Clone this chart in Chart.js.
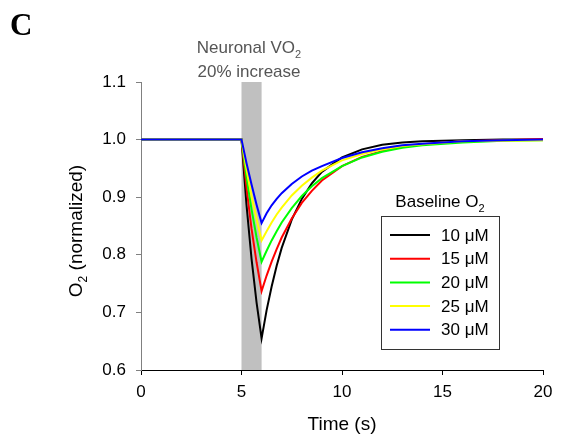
<!DOCTYPE html>
<html>
<head>
<meta charset="utf-8">
<script src="https://cdn.jsdelivr.net/npm/chart.js@4.4.1/dist/chart.umd.min.js"></script>
<style>
  html, body { margin: 0; padding: 0; background: #fff; }
  #wrap { width: 562px; height: 442px; }
</style>
</head>
<body>
<div id="wrap"><canvas id="chart" width="562" height="442"></canvas></div>
<script>
// ---- data ----------------------------------------------------------------
const TIME = [0, 5, 5.25, 5.5, 5.75, 6, 6.25, 6.5, 6.75, 7, 7.5, 8, 8.5, 9, 10, 11, 12, 13, 14, 16, 18, 20];

const O2_10uM = [1.000, 1.000, 0.886, 0.793, 0.717, 0.655, 0.704, 0.745, 0.781, 0.812, 0.861, 0.897, 0.924, 0.944, 0.969, 0.983, 0.991, 0.995, 0.997, 0.999, 1.000, 1.000];
const O2_15uM = [1.000, 1.000, 0.916, 0.845, 0.787, 0.737, 0.764, 0.788, 0.810, 0.830, 0.863, 0.890, 0.911, 0.929, 0.954, 0.970, 0.980, 0.987, 0.992, 0.997, 0.999, 1.001];
const O2_20uM = [1.000, 1.000, 0.934, 0.879, 0.830, 0.788, 0.807, 0.825, 0.841, 0.856, 0.881, 0.902, 0.919, 0.933, 0.954, 0.969, 0.979, 0.986, 0.990, 0.995, 0.998, 0.999];
const O2_25uM = [1.000, 1.000, 0.948, 0.902, 0.862, 0.825, 0.841, 0.856, 0.870, 0.882, 0.903, 0.920, 0.934, 0.946, 0.964, 0.975, 0.983, 0.989, 0.992, 0.997, 0.998, 0.999];
const O2_30uM = [1.000, 1.000, 0.959, 0.922, 0.887, 0.855, 0.872, 0.886, 0.897, 0.907, 0.923, 0.936, 0.946, 0.954, 0.968, 0.978, 0.985, 0.990, 0.993, 0.997, 0.999, 1.000];

const SERIES_LABELS = ['10 μM', '15 μM', '20 μM', '25 μM', '30 μM'];
const SERIES_VALUES = [O2_10uM, O2_15uM, O2_20uM, O2_25uM, O2_30uM];
const SERIES_COLORS = ['#000000', '#ff0000', '#00ff00', '#ffff00', '#0000ff'];

const STIM_WINDOW = [5, 6];   // s, grey band
const X_RANGE = [0, 20];
const Y_RANGE = [0.6, 1.1];

const FONT = "'Liberation Sans', Arial, sans-serif";

// Draw a string made of pieces, some of them subscripts, centred on x.
function drawParts(ctx, parts, x, y, size, color) {
  const subSize = Math.round(size * 0.62);
  let total = 0;
  parts.forEach((p) => {
    ctx.font = `${p.sub ? subSize : size}px ${FONT}`;
    total += ctx.measureText(p.t).width;
  });
  let cx = x - total / 2;
  ctx.fillStyle = color;
  ctx.textAlign = 'left';
  ctx.textBaseline = 'alphabetic';
  parts.forEach((p) => {
    ctx.font = `${p.sub ? subSize : size}px ${FONT}`;
    ctx.fillText(p.t, cx, p.sub ? y + size * 0.28 : y);
    cx += ctx.measureText(p.t).width;
  });
}

// ---- plugins -------------------------------------------------------------
const stimBand = {
  id: 'stimBand',
  beforeDatasetsDraw(chart) {
    const { ctx, chartArea, scales } = chart;
    const x0 = scales.x.getPixelForValue(STIM_WINDOW[0]);
    const x1 = scales.x.getPixelForValue(STIM_WINDOW[1]);
    ctx.save();
    ctx.fillStyle = '#c0c0c0';
    ctx.fillRect(x0, chartArea.top, x1 - x0, chartArea.bottom - chartArea.top);
    ctx.restore();
  }
};

const figureText = {
  id: 'figureText',
  afterDraw(chart) {
    const { ctx } = chart;
    ctx.save();
    // panel letter
    ctx.font = "bold 31px 'Liberation Serif', 'Times New Roman', serif";
    ctx.fillStyle = '#000';
    ctx.textAlign = 'left';
    ctx.textBaseline = 'alphabetic';
    ctx.fillText('C', 10, 35);

    // stimulus annotation
    drawParts(ctx, [{ t: 'Neuronal VO' }, { t: '2', sub: true }], 249, 53, 17, '#555555');
    drawParts(ctx, [{ t: '20% increase' }], 249, 77, 17, '#555555');

    // axis titles
    drawParts(ctx, [{ t: 'Time (s)' }], 342, 430, 19, '#000');
    ctx.translate(82, 231);
    ctx.rotate(-Math.PI / 2);
    drawParts(ctx, [{ t: 'O' }, { t: '2', sub: true }, { t: ' (normalized)' }], 0, 0, 19, '#000');
    ctx.restore();

    // legend
    ctx.save();
    drawParts(ctx, [{ t: 'Baseline O' }, { t: '2', sub: true }], 440, 207, 17, '#000');
    ctx.strokeStyle = '#333';
    ctx.lineWidth = 1;
    ctx.strokeRect(381.5, 216.5, 118, 133);
    chart.data.datasets.forEach((ds, i) => {
      const y = 235 + i * 23.7;
      ctx.strokeStyle = ds.borderColor;
      ctx.lineWidth = 2;
      ctx.beginPath();
      ctx.moveTo(390, y);
      ctx.lineTo(430, y);
      ctx.stroke();
      ctx.fillStyle = '#000';
      ctx.font = `17px ${FONT}`;
      ctx.textAlign = 'left';
      ctx.textBaseline = 'middle';
      ctx.fillText(ds.label, 441, y + 1);
    });
    ctx.restore();
  }
};

// ---- chart ---------------------------------------------------------------
const datasets = SERIES_VALUES.map((vals, i) => ({
  label: SERIES_LABELS[i],
  data: vals.map((v, j) => ({ x: TIME[j], y: v })),
  borderColor: SERIES_COLORS[i],
  backgroundColor: SERIES_COLORS[i],
  borderWidth: 2,
  pointRadius: 0,
  tension: 0,
  fill: false,
  order: SERIES_VALUES.length - i
}));

new Chart(document.getElementById('chart'), {
  type: 'line',
  data: { datasets },
  plugins: [stimBand, figureText],
  options: {
    responsive: false,
    animation: false,
    layout: { padding: { top: 82, right: 19, left: 0, bottom: 0 } },
    plugins: { legend: { display: false }, tooltip: { enabled: false } },
    scales: {
      x: {
        type: 'linear',
        min: X_RANGE[0],
        max: X_RANGE[1],
        afterFit: (s) => { s.height = 72; },
        border: { color: '#000', width: 1 },
        grid: { drawOnChartArea: false, drawTicks: true, tickLength: 5, color: '#000' },
        ticks: { stepSize: 5, color: '#000', padding: 7, font: { family: FONT, size: 17 } }
      },
      y: {
        min: Y_RANGE[0],
        max: Y_RANGE[1],
        afterFit: (s) => { s.width = 141; },
        border: { color: '#808080', width: 1 },
        grid: { drawOnChartArea: false, drawTicks: true, tickLength: 5, color: '#808080' },
        ticks: {
          stepSize: 0.1,
          color: '#000',
          padding: 10,
          font: { family: FONT, size: 17 },
          callback: (v) => Number(v).toFixed(1)
        }
      }
    }
  }
});
</script>
</body>
</html>
